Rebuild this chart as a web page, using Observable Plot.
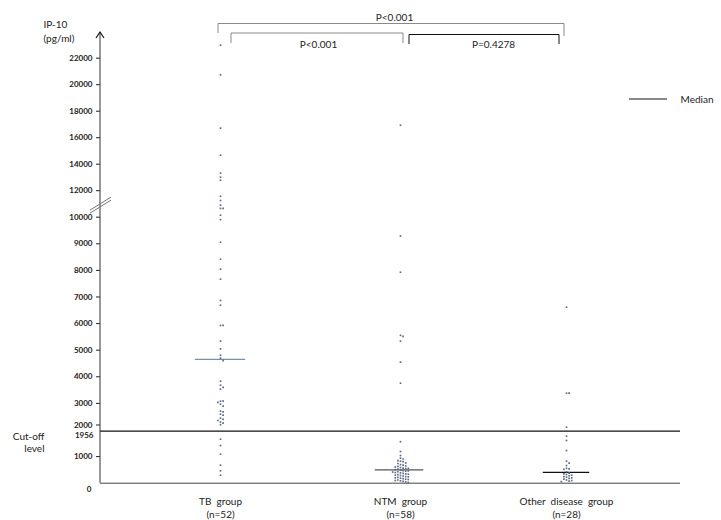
<!DOCTYPE html>
<html><head><meta charset="utf-8">
<script src="https://cdn.jsdelivr.net/npm/d3@7"></script>
<script src="https://cdn.jsdelivr.net/npm/@observablehq/plot@0.6"></script>
<style>body{margin:0;background:#fff}#chart{width:721px;height:520px}</style>
</head><body><div id="chart"></div>
<script>
// ---------- data ----------
const groups = ["TB  group", "NTM  group", "Other  disease  group"];
const nLabels = ["(n=52)", "(n=58)", "(n=28)"];
const tbValues = [22980, 20750, 16720, 14680, 13320, 13020, 12790, 11580, 11260, 10910,
  10660, 10660, 10150, 9910, 9060, 8420, 8045, 7670, 6870, 6690,
  5930, 5930, 5340, 5050, 4810, 4700, 4610, 3835, 3684, 3600, 3534,
  3083, 3083, 3040, 2970, 2900, 2707, 2680, 2594, 2560, 2444,
  2400, 2357, 2300, 2256, 2200, 1654, 1417, 1090, 677, 466, 300];
const ntmValues = [16940, 9290, 7930, 5560, 5520, 5340, 4550, 3760,
  1560, 1190, 1040, 940, 910, 850, 830, 810, 760, 740,
  700, 680, 650, 630, 610, 590, 570, 560, 550, 530,
  510, 490, 470, 460, 450, 430, 420, 400, 390, 370,
  350, 340, 320, 300, 290, 270, 250, 240, 220, 200,
  190, 170, 150, 140, 120, 100, 90, 70, 50, 30];
const otherValues = [6617, 3383, 3383, 2105, 1767, 1605, 1229, 827, 752, 665,
  560, 540, 520, 430, 380, 350, 330, 300, 280, 250,
  230, 200, 180, 150, 120, 100, 80, 60];
const cutOff = 1956;
const yTicks = [1000, 3000, 4000, 5000, 6000, 7000, 8000, 9000, 10000,
  12000, 14000, 16000, 18000, 20000, 22000];
const compFrom = [0, 0, 1];
const compTo = [2, 1, 2];
const compLabels = ["P<0.001", "P<0.001", "P=0.4278"];

// ---------- scale configuration (broken axis) ----------
const X_DOMAIN = [0, 1, 2], X_RANGE = [220, 400, 566];
const Y_DOMAIN = [0, 10000, 24000], Y_RANGE = [482.7, 216.7, 31.2];
const BREAK_AT = 10950;
const MEDIAN_HALF = 0.14;
const MEDIAN_COLORS = ["#7890aa", "#555555", "#111111"];
const DOT_COLOR = "#5d6b85";
const STEP = 2.6;

// ---------- deterministic swarm layout ----------
const xs = d3.scaleLinear(X_DOMAIN, X_RANGE);
const ys = d3.scaleLinear(Y_DOMAIN, Y_RANGE);
const series = [tbValues, ntmValues, otherValues];
const points = [];
series.forEach((vals, i) => {
  const placed = [];
  [...vals].sort((a, b) => b - a).forEach(v => {
    const py = ys(v);
    let off = 0;
    for (let k = 0; k < 60; k++) {
      const cand = k === 0 ? 0 : (k % 2 ? 1 : -1) * Math.ceil(k / 2) * STEP;
      if (!placed.some(p => Math.abs(p.py - py) < STEP && Math.abs(p.off - cand) < STEP)) { off = cand; break; }
    }
    placed.push({py, off});
    points.push({group: i, value: v, xv: xs.invert(xs(i) + off)});
  });
});
const medians = series.map((vals, i) => ({i, m: d3.median(vals)}));
const comps = compFrom.map((f, k) => ({from: f, to: compTo[k], label: compLabels[k]}));

// ---------- decorations drawn from the scales ----------
function decorations(index, scales, values, dim) {
  const {x, y} = scales;
  const g = d3.create("svg:g").attr("fill", "none");
  const L = dim.marginLeft, T = dim.marginTop, R = dim.width - dim.marginRight;
  const line = (x1, y1, x2, y2, stroke, w = 1) =>
    g.append("line").attr("x1", x1).attr("y1", y1).attr("x2", x2).attr("y2", y2)
     .attr("stroke", stroke).attr("stroke-width", w);
  // y axis line with arrow
  line(L, y(0), L, T + 1, "#333");
  g.append("path").attr("d", `M${L - 4},${T + 7}L${L},${T + 1}L${L + 4},${T + 7}`)
   .attr("stroke", "#111").attr("stroke-width", 1.2);
  // axis break
  const yb = y(BREAK_AT);
  line(L - 10, yb + 6, L + 11, yb - 7, "#777");
  line(L - 10, yb + 9, L + 11, yb - 4, "#777");
  // significance brackets
  const bracket = (x1, x2, top, b1, b2, stroke) => {
    g.append("path").attr("d", `M${x1},${b1}V${top}H${x2}V${b2}`).attr("stroke", stroke);
  };
  bracket(x(0) - 2, x(2) - 2, T - 7.5, T + 2, T + 5, "#8a8a8a");
  bracket(x(0) + 11, x(1) + 3, T + 2, T + 12, T + 12, "#8a8a8a");
  bracket(x(1) + 9, x(2) - 7, T + 3.5, T + 13, T + 13, "#111");
  // legend line
  line(R - 51, T + 68, R - 13, T + 68, "#111");
  return g.node();
}

const chart = Plot.plot({
  width: 721,
  height: 520,
  marginLeft: 100,
  marginRight: 41,
  marginTop: 31,
  marginBottom: 37,
  style: {fontFamily: "Lato, 'Open Sans', sans-serif", fontSize: "10px", color: "#222", background: "#fff"},
  x: {type: "linear", domain: X_DOMAIN, range: X_RANGE},
  y: {type: "linear", domain: Y_DOMAIN, range: Y_RANGE},
  marks: [
    Plot.ruleY([cutOff], {stroke: "#111", strokeWidth: 1.2}),
    Plot.ruleY([0], {stroke: "#444"}),
    Plot.ruleY(medians, {y: "m", x1: d => d.i - MEDIAN_HALF, x2: d => d.i + MEDIAN_HALF,
      stroke: d => MEDIAN_COLORS[d.i], strokeWidth: 1.3}),
    Plot.dot(points, {x: "xv", y: "value", symbol: "square", r: 0.95, fill: DOT_COLOR, stroke: "none"}),
    Plot.axisY({ticks: yTicks, tickSize: 4, tickPadding: 4, tickFormat: d => String(d),
      fontSize: 8, fontWeight: "bold", label: null, stroke: "#222"}),
    Plot.axisY({ticks: [2000], tickSize: 4, tickPadding: 4, tickFormat: d => String(d),
      fontSize: 8, fontWeight: "bold", label: null, dy: -5}),
    Plot.axisY({ticks: [cutOff], tickSize: 0, tickPadding: 7, tickFormat: d => String(d),
      fontSize: 8, fontWeight: "bold", label: null, dy: 4.5}),
    Plot.axisY({ticks: [0], tickSize: 0, tickPadding: 9, tickFormat: d => String(d),
      fontSize: 8, fontWeight: "bold", label: null, dy: 6}),
    Plot.axisX({ticks: X_DOMAIN, tickSize: 0, tickPadding: 12, label: null, lineHeight: 1.3,
      tickFormat: i => `${groups[i]}\n${nLabels[i]}`, fontSize: 10}),
    Plot.text(["IP-10\n(pg/ml)"], {text: d => d, frameAnchor: "top-left", textAnchor: "start", lineAnchor: "middle",
      dx: -57, dy: -1, lineHeight: 1.4, fontSize: 10}),
    Plot.text(["Cut-off\nlevel"], {text: d => d, y: () => cutOff, frameAnchor: "left", textAnchor: "end",
      dx: -56, dy: 11, lineHeight: 1.2, fontSize: 10}),
    Plot.text(comps.slice(0, 1), {x: d => (d.from + d.to) / 2, text: "label", frameAnchor: "top", lineAnchor: "middle", dx: -6, dy: -14, fontSize: 10}),
    Plot.text(comps.slice(1, 2), {x: d => (d.from + d.to) / 2, text: "label", frameAnchor: "top", lineAnchor: "middle", dx: 8, dy: 13, fontSize: 10}),
    Plot.text(comps.slice(2, 3), {x: d => (d.from + d.to) / 2, text: "label", frameAnchor: "top", lineAnchor: "middle", dx: 10, dy: 13, fontSize: 10}),
    Plot.text(["Median"], {text: d => d, frameAnchor: "top-right", textAnchor: "start", lineAnchor: "middle", dy: 68, fontSize: 10}),
    decorations
  ]
});
document.getElementById("chart").appendChild(chart);
</script>
</body></html>
